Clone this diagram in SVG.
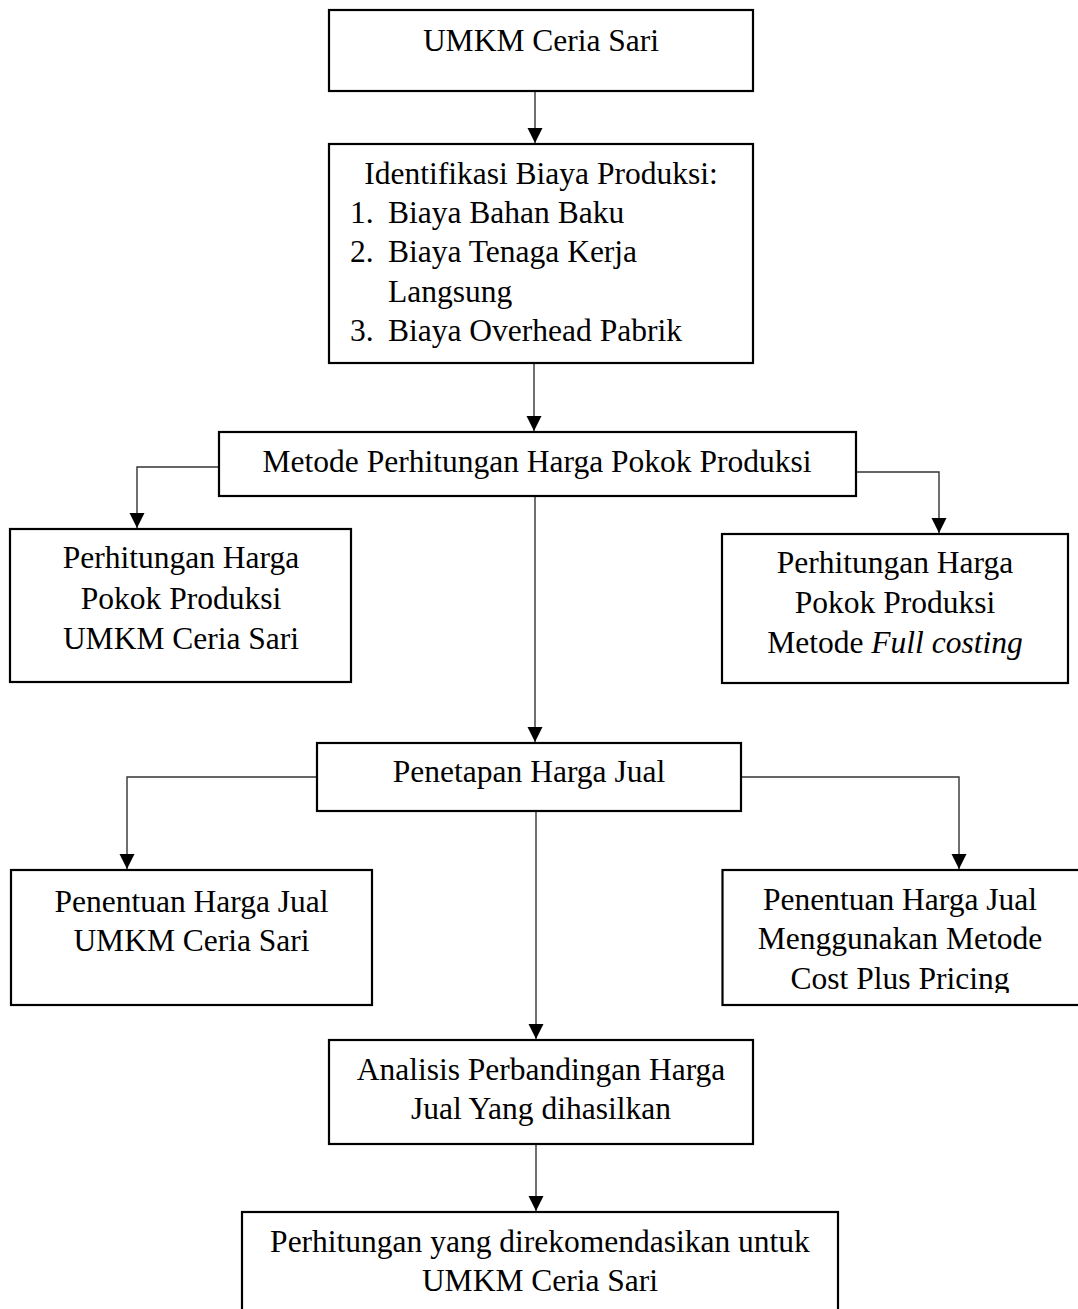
<svg xmlns="http://www.w3.org/2000/svg" width="1078" height="1309" viewBox="0 0 1078 1309">
<style>
  .box { fill: #ffffff; stroke: #000000; stroke-width: 2.2; }
  .t { font-family: "Liberation Serif", "Times New Roman", serif; font-size: 31.5px; fill: #000000; }
  .c { text-anchor: middle; }
  .conn { fill: none; stroke: #333333; stroke-width: 1.4; marker-end: url(#arrow); }
</style>
<defs>
  <marker id="arrow" markerUnits="userSpaceOnUse" markerWidth="16" markerHeight="16" refX="15" refY="7.5" orient="auto">
    <path d="M0,0 L15,7.5 L0,15 Z" fill="#000000"/>
  </marker>
  <clipPath id="clipB">
    <rect x="722" y="870" width="360" height="123"/>
  </clipPath>
</defs>
<rect width="1078" height="1309" fill="#ffffff"/>

<g id="connectors">
  <line class="conn" x1="535" y1="91" x2="535" y2="143"/>
  <line class="conn" x1="534" y1="363" x2="534" y2="431"/>
  <polyline class="conn" points="219,467 137,467 137,528"/>
  <polyline class="conn" points="856,472 939,472 939,533"/>
  <line class="conn" x1="535" y1="496" x2="535" y2="742"/>
  <polyline class="conn" points="317,777 127,777 127,869"/>
  <polyline class="conn" points="741,777 959,777 959,869"/>
  <line class="conn" x1="536" y1="811" x2="536" y2="1039"/>
  <line class="conn" x1="536" y1="1144" x2="536" y2="1211"/>
</g>

<g id="n-umkm">
  <rect class="box" x="329" y="10" width="424" height="81"/>
  <text class="t c" x="541" y="51">UMKM Ceria Sari</text>
</g>

<g id="n-identifikasi">
  <rect class="box" x="329" y="144" width="424" height="219"/>
  <text class="t c" x="541" y="184">Identifikasi Biaya Produksi:</text>
  <text class="t" x="350" y="222.5">1.</text>
  <text class="t" x="388" y="222.5">Biaya Bahan Baku</text>
  <text class="t" x="350" y="262">2.</text>
  <text class="t" x="388" y="262">Biaya Tenaga Kerja</text>
  <text class="t" x="388" y="301.5">Langsung</text>
  <text class="t" x="350" y="341">3.</text>
  <text class="t" x="388" y="341">Biaya Overhead Pabrik</text>
</g>

<g id="n-metode">
  <rect class="box" x="219" y="432" width="637" height="64"/>
  <text class="t c" x="537" y="472">Metode Perhitungan Harga Pokok Produksi</text>
</g>

<g id="n-hpp-umkm">
  <rect class="box" x="10" y="529" width="341" height="153"/>
  <text class="t c" x="181" y="568">Perhitungan Harga</text>
  <text class="t c" x="181" y="609">Pokok Produksi</text>
  <text class="t c" x="181" y="649">UMKM Ceria Sari</text>
</g>

<g id="n-hpp-full">
  <rect class="box" x="722" y="534" width="346" height="149"/>
  <text class="t c" x="895" y="573">Perhitungan Harga</text>
  <text class="t c" x="895" y="613">Pokok Produksi</text>
  <text class="t c" x="895" y="653">Metode <tspan font-style="italic">Full costing</tspan></text>
</g>

<g id="n-penetapan">
  <rect class="box" x="317" y="743" width="424" height="68"/>
  <text class="t c" x="529" y="782">Penetapan Harga Jual</text>
</g>

<g id="n-hj-umkm">
  <rect class="box" x="11" y="870" width="361" height="135"/>
  <text class="t c" x="191.5" y="912">Penentuan Harga Jual</text>
  <text class="t c" x="191.5" y="951">UMKM Ceria Sari</text>
</g>

<g id="n-hj-cost">
  <rect class="box" x="722.5" y="870" width="360" height="135"/>
  <g clip-path="url(#clipB)">
    <text class="t c" x="900" y="910">Penentuan Harga Jual</text>
    <text class="t c" x="900" y="949">Menggunakan Metode</text>
    <text class="t c" x="900" y="989">Cost Plus Pricing</text>
  </g>
</g>

<g id="n-analisis">
  <rect class="box" x="329" y="1040" width="424" height="104"/>
  <text class="t c" x="541" y="1080">Analisis Perbandingan Harga</text>
  <text class="t c" x="541" y="1119">Jual Yang dihasilkan</text>
</g>

<g id="n-rekomendasi">
  <rect class="box" x="242" y="1212" width="596" height="110"/>
  <text class="t c" x="540" y="1252">Perhitungan yang direkomendasikan untuk</text>
  <text class="t c" x="540" y="1291">UMKM Ceria Sari</text>
</g>
</svg>
